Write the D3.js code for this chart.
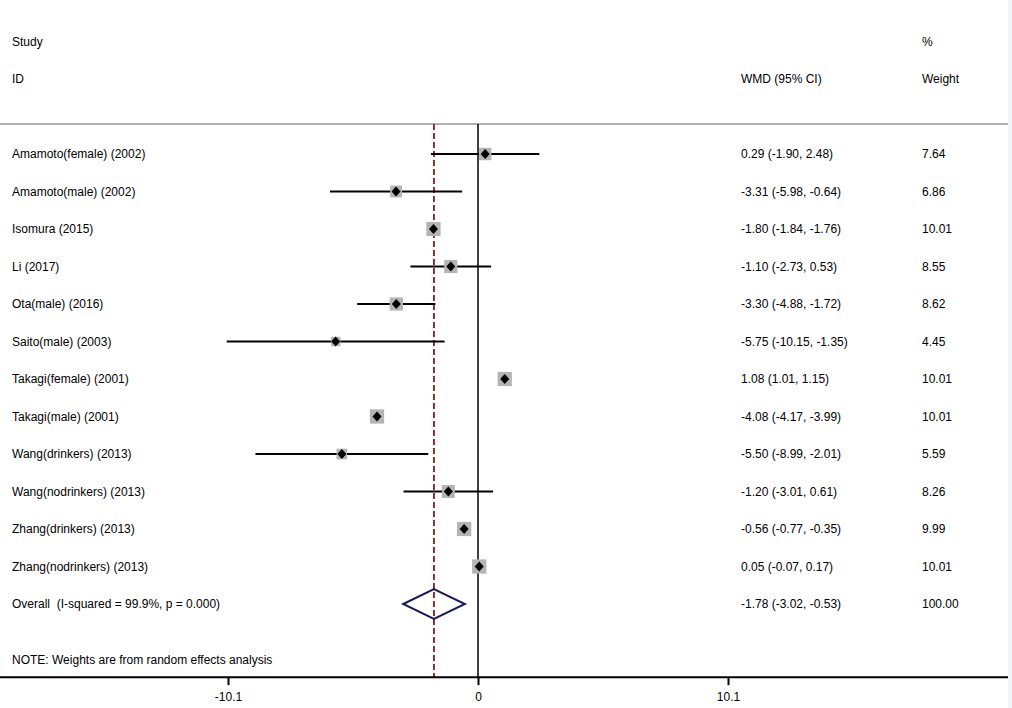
<!DOCTYPE html>
<html>
<head>
<meta charset="utf-8">
<script src="https://cdn.jsdelivr.net/npm/d3@7"></script>
<style>
  body { margin: 0; background: #fff; }
  text { font-family: "Liberation Sans", Arial, sans-serif; font-size: 12px; fill: #000; white-space: pre; }
</style>
</head>
<body>
<svg id="imagen" width="1012" height="708"></svg>
<script>
// study rows
var studies = [
  "Amamoto(female) (2002)", "Amamoto(male) (2002)", "Isomura (2015)", "Li (2017)",
  "Ota(male) (2016)", "Saito(male) (2003)", "Takagi(female) (2001)", "Takagi(male) (2001)",
  "Wang(drinkers) (2013)", "Wang(nodrinkers) (2013)", "Zhang(drinkers) (2013)", "Zhang(nodrinkers) (2013)"
];
var wmd    = [0.29, -3.31, -1.80, -1.10, -3.30, -5.75, 1.08, -4.08, -5.50, -1.20, -0.56, 0.05];
var lower  = [-1.90, -5.98, -1.84, -2.73, -4.88, -10.15, 1.01, -4.17, -8.99, -3.01, -0.77, -0.07];
var upper  = [2.48, -0.64, -1.76, 0.53, -1.72, -1.35, 1.15, -3.99, -2.01, 0.61, -0.35, 0.17];
var weight = [7.64, 6.86, 10.01, 8.55, 8.62, 4.45, 10.01, 10.01, 5.59, 8.26, 9.99, 10.01];

var overall = { label: "Overall  (I-squared = 99.9%, p = 0.000)", es: -1.78, lo: -3.02, hi: -0.53, w: 100.00 };
var xTicks = [-10.1, 0, 10.1];

var width = 1012, height = 708;
var svg = d3.select("#imagen");

var x = d3.scaleLinear().domain([-10.1, 10.1]).range([228, 728]);
// row index -> vertical position
var y = d3.scaleLinear().domain([0, 1]).range([154, 191.5]);

var colLabel = 12, colEs = 741, colW = 922;
var axisY = y(13.95), topY = y(-0.8);

var fmt = v => v.toFixed(2);

// header
svg.append("text").attr("x", colLabel).attr("y", y(-3)).attr("dy", "0.35em").text("Study");
svg.append("text").attr("x", colLabel).attr("y", y(-2)).attr("dy", "0.35em").text("ID");
svg.append("text").attr("x", colEs).attr("y", y(-2)).attr("dy", "0.35em").text("WMD (95% CI)");
svg.append("text").attr("x", colW).attr("y", y(-3)).attr("dy", "0.35em").text("%");
svg.append("text").attr("x", colW).attr("y", y(-2)).attr("dy", "0.35em").text("Weight");

svg.append("line")
  .attr("x1", 0).attr("x2", 1008).attr("y1", topY).attr("y2", topY)
  .attr("stroke", "#b0b0b0").attr("stroke-width", 2);

// no effect line
svg.append("line")
  .attr("x1", x(0)).attr("x2", x(0)).attr("y1", topY).attr("y2", axisY)
  .attr("stroke", "#000").attr("stroke-width", 1.5);

// overall effect line
svg.append("line")
  .attr("x1", x(overall.es)).attr("x2", x(overall.es)).attr("y1", topY).attr("y2", axisY)
  .attr("stroke", "#8b1a1a").attr("stroke-width", 1.8).attr("stroke-dasharray", "6,3");

var rows = studies.map((s, i) => ({ s, i, es: wmd[i], lo: lower[i], hi: upper[i], w: weight[i] }));

var g = svg.append("g").selectAll("g").data(rows).join("g");

g.append("line")
  .attr("x1", d => x(d.lo)).attr("x2", d => x(d.hi))
  .attr("y1", d => y(d.i)).attr("y2", d => y(d.i))
  .attr("stroke", "#000").attr("stroke-width", 2.2);

g.append("rect")
  .attr("x", d => x(d.es) - 2.25 * Math.sqrt(d.w))
  .attr("y", d => y(d.i) - 2.25 * Math.sqrt(d.w))
  .attr("width", d => 4.5 * Math.sqrt(d.w))
  .attr("height", d => 4.5 * Math.sqrt(d.w))
  .attr("fill", "#b4b4b4");

g.append("path")
  .attr("d", d => {
    var cx = x(d.es), cy = y(d.i);
    return `M${cx - 4.5},${cy}L${cx},${cy - 5}L${cx + 4.5},${cy}L${cx},${cy + 5}Z`;
  })
  .attr("fill", "#000");

g.append("text").attr("x", colLabel).attr("y", d => y(d.i)).attr("dy", "0.35em").text(d => d.s);
g.append("text").attr("x", colEs).attr("y", d => y(d.i)).attr("dy", "0.35em")
  .text(d => `${fmt(d.es)} (${fmt(d.lo)}, ${fmt(d.hi)})`);
g.append("text").attr("x", colW).attr("y", d => y(d.i)).attr("dy", "0.35em").text(d => fmt(d.w));

// overall
var oy = y(12);
svg.append("path")
  .attr("d", `M${x(overall.lo)},${oy}L${x(overall.es)},${oy - 15}L${x(overall.hi)},${oy}L${x(overall.es)},${oy + 15}Z`)
  .attr("fill", "none").attr("stroke", "#1a1a5c").attr("stroke-width", 2);
svg.append("text").attr("x", colLabel).attr("y", oy).attr("dy", "0.35em").text(overall.label);
svg.append("text").attr("x", colEs).attr("y", oy).attr("dy", "0.35em")
  .text(`${fmt(overall.es)} (${fmt(overall.lo)}, ${fmt(overall.hi)})`);
svg.append("text").attr("x", colW).attr("y", oy).attr("dy", "0.35em").text(fmt(overall.w));

svg.append("text").attr("x", colLabel).attr("y", y(13.5)).attr("dy", "0.35em")
  .text("NOTE: Weights are from random effects analysis");

// axis
var xAxis = gg => gg
  .attr("transform", `translate(0,${axisY})`)
  .call(d3.axisBottom(x).tickValues(xTicks).tickFormat(d => d === 0 ? "0" : d.toFixed(1)).tickSize(8).tickPadding(7))
  .call(gg => gg.select(".domain").remove())
  .call(gg => gg.selectAll(".tick line").attr("stroke", "#000").attr("stroke-width", 2))
  .call(gg => gg.selectAll(".tick text").attr("font-size", 12).attr("font-family", "Liberation Sans, Arial, sans-serif"));

svg.append("g").call(xAxis);
svg.append("line")
  .attr("x1", 0).attr("x2", 1008).attr("y1", axisY).attr("y2", axisY)
  .attr("stroke", "#000").attr("stroke-width", 2);

// faint right border
svg.append("rect").attr("x", 1008).attr("y", 0).attr("width", 4).attr("height", height).attr("fill", "#f3f5f8");
</script>
</body>
</html>
